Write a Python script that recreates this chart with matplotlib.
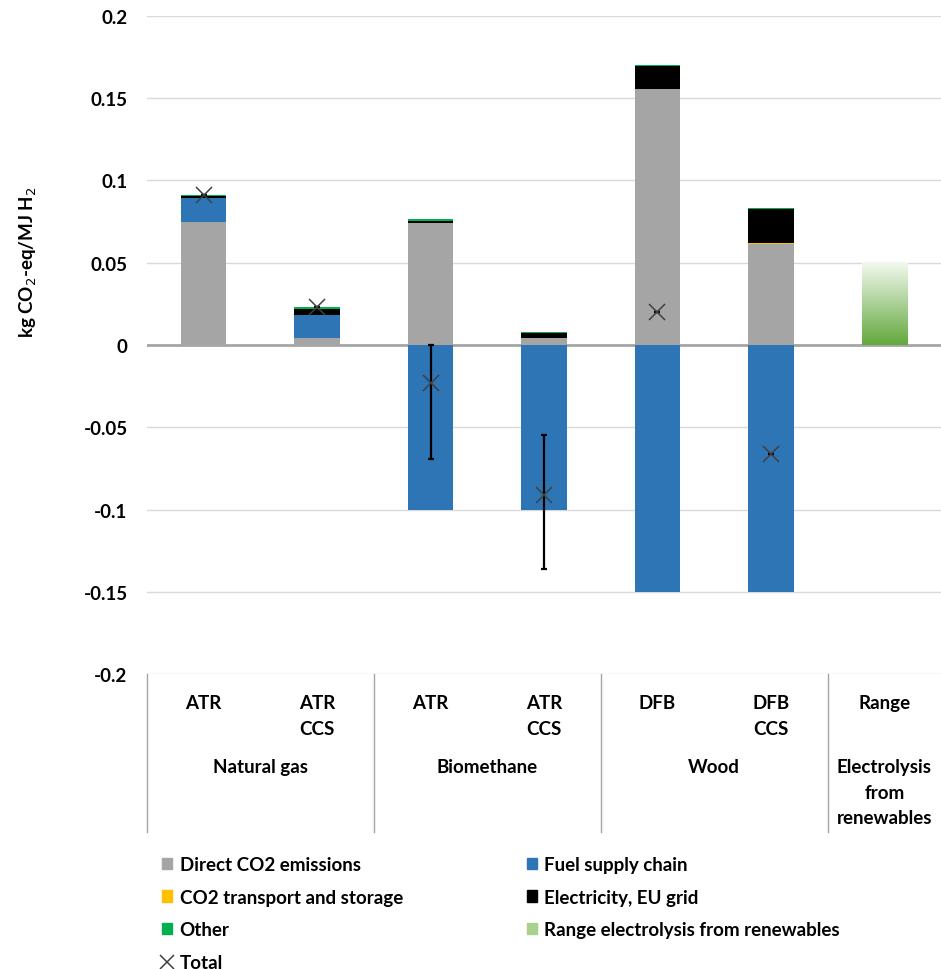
import numpy as np
import matplotlib
matplotlib.use('Agg')
import matplotlib.pyplot as plt
from matplotlib.patches import Patch
from matplotlib.lines import Line2D

plt.rcParams['font.family'] = ['Lato', 'DejaVu Sans']

# pathways, grouped by feedstock
categories = ['ATR', 'ATR\nCCS', 'ATR', 'ATR\nCCS', 'DFB', 'DFB\nCCS', 'Range']
groups = ['Natural gas', 'Biomethane', 'Wood', 'Electrolysis\nfrom\nrenewables']
group_sizes = [2, 2, 2, 1]

# contributions, kg CO2-eq / MJ H2
direct_co2 = [0.075, 0.0045, 0.074, 0.004, 0.1555, 0.0615, 0.0]
fuel_supply = [0.0145, 0.0135, -0.100, -0.100, -0.150, -0.150, 0.0]
co2_transport = [0.0, 0.0005, 0.0, 0.0005, 0.0, 0.0008, 0.0]
electricity = [0.0012, 0.0035, 0.0013, 0.003, 0.0143, 0.0205, 0.0]
other = [0.0005, 0.0008, 0.0015, 0.0007, 0.0005, 0.0005, 0.0]
total = [0.091, 0.023, -0.023, -0.091, 0.020, -0.066, np.nan]

# uncertainty on the biomethane totals
err_low = [0, 0, 0.046, 0.045, 0, 0, 0]
err_high = [0, 0, 0.023, 0.036, 0, 0, 0]

# electrolysis from renewables, drawn as a range
range_low = 0.0
range_high = 0.05

series = [
    ('Direct CO2 emissions', direct_co2, '#A5A5A5'),
    ('Fuel supply chain', fuel_supply, '#2E75B6'),
    ('CO2 transport and storage', co2_transport, '#FFC000'),
    ('Electricity, EU grid', electricity, '#000000'),
    ('Other', other, '#00B050'),
]

fig = plt.figure(figsize=(9.41, 9.70), dpi=100)
ax = fig.add_axes([0.1562, 0.3041, 0.8438, 0.6784])

x = np.arange(len(categories))
width = 0.4
pos_bottom = np.zeros(len(categories))
neg_bottom = np.zeros(len(categories))
for name, vals, col in series:
    vals = np.array(vals)
    bottom = np.where(vals >= 0, pos_bottom, neg_bottom)
    ax.bar(x, vals, width, bottom=bottom, color=col, zorder=3)
    pos_bottom += np.clip(vals, 0, None)
    neg_bottom += np.clip(vals, None, 0)

# gradient bar for the electrolysis range
xr = x[-1]
grad = np.linspace(0, 1, 256).reshape(-1, 1)
cmap = matplotlib.colors.LinearSegmentedColormap.from_list('rng', ['#62A83C', '#F3F9F0'])
ax.imshow(grad, cmap=cmap, origin='lower', aspect='auto', zorder=3,
          extent=[xr - width / 2, xr + width / 2, range_low, range_high])

# totals and error bars
ax.errorbar(x, total, yerr=[err_low, err_high], fmt='none', ecolor='black',
            elinewidth=1.6, capsize=2.5, capthick=1.6, zorder=4)
ax.plot(x, total, linestyle='none', marker='x', markersize=11, mew=1.1,
        color='#404040', zorder=5)

ax.set_xlim(-0.5, len(categories) - 0.5)
ax.set_ylim(-0.2, 0.2)
yt = np.arange(-0.2, 0.2001, 0.05)
ax.set_yticks(yt)
ax.set_yticklabels(['%g' % round(v, 2) if abs(v) > 1e-9 else '0' for v in yt],
                   fontweight='bold', fontsize=13.5)
ax.tick_params(axis='y', length=0, pad=14)
ax.set_xticks([])
for s in ax.spines.values():
    s.set_visible(False)
ax.grid(axis='y', color='#D9D9D9', linewidth=1, zorder=0)
ax.axhline(0, color='#A6A6A6', linewidth=2, zorder=2)

# category table under the axis
xt = ax.get_xaxis_transform()
for i, c in enumerate(categories):
    ax.text(i, -0.031, c, transform=xt, ha='center', va='top', fontsize=13.5,
            fontweight='bold', linespacing=1.6, clip_on=False)
start = 0
seps = [-0.5]
for g, n in zip(groups, group_sizes):
    mid = start + (n - 1) / 2
    ax.text(mid, -0.128, g, transform=xt, ha='center', va='top', fontsize=13.5,
            fontweight='bold', linespacing=1.6, clip_on=False)
    start += n
    seps.append(start - 0.5)
for s in seps[:-1]:
    ax.plot([s, s], [0, -0.24], transform=xt, color='#A6A6A6', linewidth=1,
            clip_on=False)

fig.text(0.030, 0.73, r'kg CO$_2$-eq/MJ H$_2$', rotation=90, ha='center',
         va='center', fontsize=13.5, fontweight='bold')

handles = [
    Patch(color='#A5A5A5', label='Direct CO2 emissions'),
    Patch(color='#FFC000', label='CO2 transport and storage'),
    Patch(color='#00B050', label='Other'),
    Line2D([], [], linestyle='none', marker='x', markersize=10, mew=1.1,
           color='#404040', label='Total'),
    Patch(color='#2E75B6', label='Fuel supply chain'),
    Patch(color='#000000', label='Electricity, EU grid'),
    Patch(color='#A9D18E', label='Range electrolysis from renewables'),
]
fig.legend(handles=handles, ncol=2, loc='upper left',
           bbox_to_anchor=(0.172, 1 - 857 / 970), frameon=False,
           prop={'weight': 'bold', 'size': 13.5}, handlelength=0.55,
           handleheight=0.55, handletextpad=0.4, labelspacing=0.83,
           columnspacing=6.6, borderpad=0, borderaxespad=0)

fig.savefig('out.png', dpi=100)
